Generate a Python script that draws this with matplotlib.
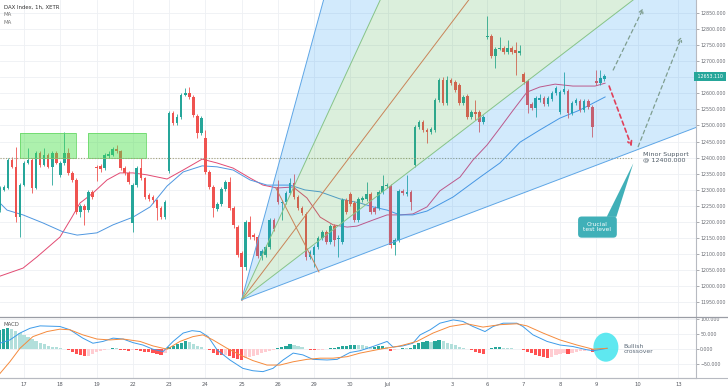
import matplotlib
matplotlib.use("Agg")
import matplotlib.pyplot as plt
import matplotlib.transforms as mtransforms
from matplotlib.patches import Rectangle, Ellipse, Polygon
from matplotlib.lines import Line2D
import numpy as np

plt.rcParams['font.family'] = ['DejaVu Sans']

# ---------------- data ----------------
opens = [12236, 12299, 12305, 12392, 12371, 12215, 12315, 12383, 12392, 12305,
         12414, 12377, 12408, 12371, 12414, 12346, 12383, 12414, 12352, 12330,
         12230, 12249, 12236, 12293, 12371, 12374, 12367, 12405, 12408, 12427,
         12420, 12367, 12352, 12196, 12315, 12367, 12336, 12283, 12277, 12268,
         12243, 12215, 12358, 12539, 12508, 12526, 12595, 12601, 12589, 12530,
         12477, 12461, 12355, 12308, 12240, 12255, 12302, 12324, 12243, 12183,
         12102, 12059, 12199, 12158, 12152, 12093, 12096, 12121, 12205, 12308,
         12258, 12261, 12289, 12321, 12277, 12243, 12224, 12090, 12096, 12121,
         12149, 12168, 12136, 12186, 12146, 12136, 12268, 12286, 12258, 12205,
         12268, 12271, 12286, 12243, 12243, 12293, 12311, 12311, 12127, 12143,
         12296, 12286, 12293, 12377, 12495, 12511, 12486, 12480, 12486, 12580,
         12642, 12570, 12642, 12636, 12626, 12570, 12592, 12526, 12542, 12542,
         12511, 12776, 12779, 12717, 12739, 12742, 12729, 12742, 12735, 12726,
         12661, 12639, 12567, 12555, 12580, 12586, 12567, 12583, 12601, 12542,
         12604, 12608, 12539, 12570, 12577, 12548, 12577, 12558, 12639, 12633,
         12645]
highs = [12311, 12315, 12399, 12402, 12433, 12321, 12389, 12430, 12399, 12420,
         12420, 12430, 12414, 12420, 12420, 12389, 12480, 12430, 12358, 12336,
         12255, 12255, 12299, 12299, 12377, 12380, 12414, 12420, 12433, 12440,
         12424, 12374, 12358, 12321, 12374, 12399, 12340, 12289, 12283, 12271,
         12249, 12268, 12545, 12545, 12536, 12601, 12617, 12620, 12595, 12536,
         12530, 12486, 12361, 12315, 12261, 12308, 12330, 12340, 12249, 12190,
         12109, 12205, 12218, 12165, 12158, 12115, 12127, 12211, 12211, 12330,
         12268, 12296, 12336, 12349, 12283, 12249, 12230, 12112, 12127, 12155,
         12174, 12174, 12193, 12193, 12158, 12274, 12274, 12293, 12264, 12277,
         12280, 12324, 12293, 12249, 12299, 12346, 12320, 12318, 12149, 12302,
         12302, 12346, 12299, 12502, 12517, 12517, 12492, 12495, 12586, 12648,
         12651, 12654, 12648, 12642, 12633, 12595, 12598, 12548, 12580, 12548,
         12533, 12842, 12785, 12745, 12776, 12748, 12767, 12748, 12760, 12751,
         12667, 12645, 12573, 12592, 12598, 12592, 12592, 12608, 12623, 12611,
         12667, 12614, 12577, 12586, 12583, 12583, 12583, 12564, 12673, 12673,
         12661]
lows = [12230, 12296, 12302, 12367, 12199, 12152, 12311, 12380, 12289, 12302,
        12371, 12374, 12367, 12315, 12380, 12340, 12377, 12346, 12324, 12224,
        12215, 12190, 12230, 12271, 12327, 12355, 12361, 12399, 12405, 12414,
        12361, 12346, 12318, 12168, 12308, 12330, 12271, 12265, 12258, 12205,
        12208, 12208, 12352, 12502, 12502, 12520, 12592, 12583, 12526, 12461,
        12470, 12349, 12302, 12215, 12233, 12249, 12296, 12236, 12180, 12090,
        11956, 12050, 12146, 12143, 12087, 12080, 12090, 12115, 12170, 12255,
        12205, 12255, 12286, 12271, 12236, 12221, 12080, 12084, 12059, 12115,
        12143, 12130, 12130, 12124, 12090, 12130, 12224, 12249, 12199, 12199,
        12261, 12265, 12224, 12224, 12236, 12286, 12305, 12118, 12096, 12136,
        12283, 12280, 12236, 12370, 12489, 12480, 12445, 12474, 12480, 12573,
        12564, 12564, 12626, 12605, 12564, 12564, 12520, 12520, 12517, 12480,
        12505, 12770, 12711, 12679, 12735, 12723, 12723, 12723, 12658, 12720,
        12630, 12540, 12548, 12526, 12573, 12561, 12561, 12577, 12595, 12536,
        12598, 12523, 12533, 12564, 12542, 12542, 12552, 12464, 12627, 12627,
        12640]
closes = [12305, 12308, 12392, 12371, 12215, 12315, 12383, 12392, 12305, 12414,
          12377, 12408, 12371, 12414, 12383, 12383, 12414, 12352, 12330, 12230,
          12249, 12236, 12293, 12277, 12368, 12364, 12408, 12411, 12427, 12420,
          12367, 12352, 12324, 12315, 12367, 12336, 12277, 12271, 12268, 12243,
          12215, 12261, 12539, 12508, 12526, 12595, 12601, 12589, 12533, 12477,
          12523, 12355, 12308, 12243, 12255, 12302, 12324, 12243, 12190, 12096,
          12059, 12199, 12152, 12152, 12093, 12109, 12121, 12205, 12177, 12261,
          12262, 12289, 12321, 12277, 12243, 12227, 12090, 12105, 12121, 12149,
          12168, 12136, 12186, 12143, 12150, 12268, 12230, 12255, 12205, 12271,
          12274, 12286, 12230, 12230, 12293, 12311, 12314, 12127, 12143, 12296,
          12289, 12293, 12261, 12495, 12511, 12486, 12480, 12489, 12580, 12642,
          12570, 12642, 12633, 12611, 12570, 12589, 12526, 12542, 12536, 12511,
          12526, 12779, 12717, 12739, 12742, 12729, 12742, 12729, 12726, 12732,
          12636, 12564, 12555, 12586, 12586, 12567, 12586, 12601, 12617, 12604,
          12614, 12539, 12570, 12580, 12548, 12577, 12558, 12495, 12633, 12648,
          12653.11]

day_tick_bars = [6, 15, 24, 33, 42, 51, 60, 69, 78, 87, 96.3, 112.3, 121, 130, 139, 148, 158.3, 168.4]
day_tick_labels = ['17', '18', '19', '22', '23', '24', '25', '26', '29', '30',
                   'Jul', '3', '6', '7', '8', '9', '10', '13']

ma_fast_bars = [0.05, 5.76, 9.23, 14.94, 17.9, 19.9, 23.1, 26.6, 29.8, 33.05, 36.5, 41.5,
                45.5, 50.2, 53.9, 57.9, 62.1, 65.3, 68.8, 72.8, 76.2, 79.5, 82.7, 86.2,
                88.6, 92.6, 96.1, 99.3, 102.5, 106.0, 109.2, 114.2, 117.4, 120.9, 124.1,
                127.4, 130.8, 134.0, 137.8, 142.2, 147.7, 150.2]
ma_fast_vals = [12030, 12055, 12090, 12152, 12214, 12258, 12289, 12330, 12352, 12352, 12346,
                12333, 12361, 12395, 12383, 12367, 12336, 12314, 12305, 12308, 12274, 12214,
                12190, 12183, 12186, 12205, 12221, 12221, 12224, 12246, 12296, 12339, 12392,
                12439, 12492, 12548, 12604, 12620, 12629, 12623, 12623, 12632]
ma_slow_bars = [0.05, 1.79, 5.76, 10.7, 15.7, 19.2, 24.1, 28.1, 33.05, 37.3, 41.5, 45.5,
                50.2, 53.9, 57.9, 62.1, 66.3, 72.0, 75.7, 79.5, 84.4, 89.4, 92.6, 96.1,
                99.3, 102.5, 106.0, 112.5, 119.2, 124.1, 129.1, 134.0, 139.0, 143.9, 150.2]
ma_slow_vals = [12258, 12236, 12221, 12196, 12168, 12158, 12165, 12190, 12214, 12246, 12311,
                12355, 12374, 12371, 12361, 12330, 12314, 12314, 12299, 12293, 12271, 12258,
                12246, 12236, 12221, 12221, 12233, 12277, 12339, 12383, 12448, 12486, 12523,
                12548, 12589]

macd_hist = [64, 68, 72, 66, 60, 54, 47, 40, 34, 27, 21, 16, 12, 9, 6, 3, 1,
             -3, -8, -15, -20, -24, -22, -16, -10, -6, -3, 2, 4, 3, -2, -4, -5, -3, -4,
             -6, -9, -11, -13, -17, -21, -14, 6, 12, 17, 22, 26, 24, 18, 12, 7, 2, -4,
             -12, -19, -21, -18, -22, -28, -33, -36, -31, -27, -24, -20, -14, -9, -5, -2,
             3, 8, 12, 16, 14, 10, 6, 2, -3, -4, -4, -3, 2, 3, 5, 6, 10, 12, 13, 14, 14,
             13, 12, 6, 8, 10, 11, 9, -6, -3, 2, 3, 3, 4, 14, 20, 24, 26, 25, 28, 32, 27,
             22, 18, 14, 8, 4, 1, -4, -8, -12, -15, 2, 5, 6, 7, 5, 4, 3, 2, 1, -4, -9,
             -14, -19, -24, -27, -28, -25, -21, -17, -13, -15, -12, -9, -7, -5, -4, -8,
             -3, 1, 2]
macd_line_bars = [0.05, 2.5, 5.0, 7.5, 10.0, 14.9, 17.4, 20.6, 23.1, 25.6, 28.1, 30.6, 33.05,
                  35.5, 38.0, 40.5, 43.0, 45.5, 47.7, 49.7, 51.7, 53.9, 57.1, 60.3, 62.8,
                  65.3, 67.8, 70.3, 72.8, 75.2, 77.7, 81.2, 83.7, 86.9, 89.4, 92.6, 96.1,
                  97.6, 100.0, 102.5, 104.3, 106.8, 109.2, 112.5, 114.9, 117.4, 120.4,
                  122.4, 124.9, 128.3, 129.8, 132.3, 135.8, 139.0, 142.2, 145.7, 147.2, 150.7]
macd_line_vals = [20, 31, 54, 70, 78, 76, 65, 37, 20, 26, 37, 34, 22, 14, 0, -8, 26, 54, 62,
                  59, 42, -2, -36, -64, -72, -75, -64, -36, -13, -19, -34, -36, -34, -11, -5,
                  9, 26, 7, 11, 20, 48, 65, 87, 98, 93, 76, 59, 76, 87, 87, 76, 48, 26, 14,
                  9, -2, -5, 3]
signal_bars = [0.05, 2.5, 5.0, 8.2, 11.7, 14.9, 17.4, 20.6, 24.1, 27.3, 30.6, 34.8, 38.0,
               41.5, 44.7, 47.9, 50.4, 52.9, 56.4, 59.6, 62.8, 66.3, 69.5, 72.8, 76.2, 79.5,
               82.7, 86.2, 89.4, 94.3, 99.3, 103.5, 107.5, 111.7, 115.9, 119.9, 124.1,
               128.3, 130.8, 134.8, 139.0, 143.2, 147.2, 150.7]
signal_vals = [-81, -42, 3, 42, 59, 67, 65, 48, 34, 31, 34, 26, 11, 0, 26, 42, 48, 31, 3,
               -19, -38, -53, -53, -42, -34, -30, -30, -25, -13, 0, 11, 26, 54, 76, 85, 74,
               82, 85, 78, 54, 31, 14, 0, 3]

price_ticks = list(range(11950, 12851, 50))
hidden_price_labels = [12650]
macd_ticks = [100, 50, 0, -50]
macd_tick_labels = ['100.000', '50.000', '0.000', '\u221250.000']
last_price = 12653.11
support_level = 12400
zone_low, zone_high = 12400, 12477
zone_bars = [(5.0, 19.0), (22.0, 36.2)]
fan_origin_bar = 60
fan_slopes = [46.0, 27.2, 16.6, 9.63, 4.77]
trend_bars = [68.5, 79.2]
trend_prices = [12305, 12043]
path_down_bars = [151.2, 156.8]
path_down_prices = [12623, 12434]
path_up1_bars = [152.2, 159.7]
path_up1_prices = [12673, 12866]
path_up2_bars = [158.4, 169.2]
path_up2_prices = [12434, 12777]
callout_bar, callout_price = 148.3, 12183
callout_tip = (157.2, 12382)
crossover_bar, crossover_val = 150.4, 6.7

# ---------------- figure ----------------
W, H = 728, 391
fig = plt.figure(figsize=(W / 100, H / 100), dpi=100)
fig.patch.set_facecolor('white')

px_per_bar = 4.03
xlim = ((0 + 0.2) / px_per_bar, (696 + 0.2) / px_per_bar)
ax = fig.add_axes([0, (H - 316.7) / H, 696 / W, 316.7 / H])
axm = fig.add_axes([0, (H - 378.3) / H, 696 / W, (378.3 - 316.7) / H])

grid_c = '#eef0f4'

# ----- main panel -----
ax.set_xlim(*xlim)
ax.set_ylim(11903.4, 12891.5)
for t in price_ticks:
    ax.axhline(t, color=grid_c, lw=0.6, zorder=0)
for b in day_tick_bars:
    ax.axvline(b, color=grid_c, lw=0.6, zorder=0)

# moving averages
ax.plot(ma_fast_bars, ma_fast_vals, color='#e24a72', lw=0.7, zorder=2)
ax.plot(ma_slow_bars, ma_slow_vals, color='#4f97e0', lw=0.7, zorder=2)

# candles
n = len(closes)
xb = np.arange(n)
o = np.array(opens, float)
c = np.array(closes, float)
hi = np.array(highs, float)
lo = np.array(lows, float)
cols = np.where(c >= o, '#26a69a', '#ef5350')
ax.vlines(xb, lo, hi, colors=cols, lw=0.6, zorder=3)
ax.bar(xb, np.maximum(np.abs(c - o), 2.5), width=0.66, bottom=np.minimum(o, c),
       color=cols, linewidth=0, zorder=3.1)

# green zones
for x0, x1 in zone_bars:
    ax.add_patch(Rectangle((x0, zone_low), x1 - x0, zone_high - zone_low,
                           facecolor='#4be04b', alpha=0.45, edgecolor='none', zorder=4))
    ax.add_patch(Rectangle((x0, zone_low), x1 - x0, zone_high - zone_low,
                           facecolor='none', edgecolor='#6ad86a', lw=0.6, zorder=4.1))

# support dotted line
ax.hlines(support_level, xlim[0], 157.0, colors='#a3a07c', lw=0.8,
          linestyles=(0, (1, 1.5)), zorder=4.5)

# fan
ox, oy = fan_origin_bar, lows[fan_origin_bar]
far = 400.0
fy = [oy + s * (far - ox) for s in fan_slopes]
fills = [(0, 1, '#2196f3'), (1, 3, '#4caf50'), (3, 4, '#2196f3')]
for a, b, colr in fills:
    ax.add_patch(Polygon([(ox, oy), (far, fy[a]), (far, fy[b])], closed=True,
                         facecolor=colr, alpha=0.2, edgecolor='none', zorder=5))
line_cols = ['#5ea6e6', '#86c488', '#c98458', '#86c488', '#5ea6e6']
for s, lc in zip(fan_slopes, line_cols):
    ax.plot([ox, far], [oy, oy + s * (far - ox)], color=lc, lw=0.7, zorder=5.1)
ax.plot(trend_bars, trend_prices, color='#c98458', lw=0.7, zorder=5.1)

# projected paths
ax.annotate('', xy=(path_down_bars[1], path_down_prices[1]),
            xytext=(path_down_bars[0], path_down_prices[0]),
            arrowprops=dict(arrowstyle='->', color='#e0405a', lw=1.2,
                            linestyle=(0, (2.5, 2)), mutation_scale=7,
                            shrinkA=0, shrinkB=0), zorder=6)
for bx, pv in [(path_up1_bars, path_up1_prices), (path_up2_bars, path_up2_prices)]:
    ax.annotate('', xy=(bx[1], pv[1]), xytext=(bx[0], pv[0]),
                arrowprops=dict(arrowstyle='->', color='#7f9e90', lw=0.9,
                                linestyle=(0, (3, 2.5)), mutation_scale=7,
                                shrinkA=0, shrinkB=0), zorder=6)

# annotations
ax.text(159.6, support_level, 'Minor Support\n@ 12400.000', fontsize=4.6, color='#4f5b66',
        ha='left', va='center', linespacing=1.05, zorder=7)
ax.add_patch(Polygon([(150.6, 12215), (153.0, 12215), callout_tip], closed=True,
                     facecolor='#40b0b8', edgecolor='none', zorder=7))
ax.text(callout_bar, callout_price, 'Crucial\ntest level', fontsize=4.3, color='white',
        ha='center', va='center', linespacing=1.1, zorder=7.5,
        bbox=dict(boxstyle='round,pad=0.9,rounding_size=0.6', facecolor='#40b0b8',
                  edgecolor='none'))

# axes styling
ax.yaxis.tick_right()
ax.set_yticks(price_ticks)
ax.set_yticklabels(['' if t in hidden_price_labels else f'{t:.3f}' for t in price_ticks])
ax.tick_params(axis='y', labelsize=3.4, colors='#6a6d74', length=1.8, width=0.4, pad=1.2)
ax.tick_params(axis='x', bottom=False, labelbottom=False)
for sp in ['top', 'left', 'bottom']:
    ax.spines[sp].set_visible(False)
ax.spines['right'].set_color('#b7bac1')
ax.spines['right'].set_linewidth(0.8)

trans = mtransforms.blended_transform_factory(ax.transAxes, ax.transData)
ax.text(1.0, last_price, ' 12653.110 ', transform=trans, fontsize=3.4, color='white',
        ha='left', va='center', clip_on=False, zorder=10,
        bbox=dict(boxstyle='square,pad=0.35', facecolor='#26a69a', edgecolor='none'))

# ----- MACD panel -----
axm.set_xlim(*xlim)
axm.set_ylim(-97.3, 108.7)
for t in macd_ticks:
    axm.axhline(t, color=grid_c, lw=0.6, zorder=0)
for b in day_tick_bars:
    axm.axvline(b, color=grid_c, lw=0.6, zorder=0)
hist = np.array(macd_hist, float)
hcols = []
for i, v in enumerate(hist):
    prev = hist[i - 1] if i > 0 else v - 1
    if v >= 0:
        hcols.append('#26a69a' if v > prev else '#b2dfdb')
    else:
        hcols.append('#ff5252' if v < prev else '#ffcdd2')
axm.bar(np.arange(len(hist)), hist, width=0.78, color=hcols, linewidth=0, zorder=2)
axm.add_patch(Ellipse((crossover_bar, crossover_val), 6.2, 97, facecolor='#4de6ef',
                      alpha=0.9, edgecolor='none', zorder=3))
axm.plot(macd_line_bars, macd_line_vals, color='#3d9be9', lw=0.7, zorder=4)
axm.plot(signal_bars, signal_vals, color='#f58a3c', lw=0.7, zorder=4)
axm.text(154.8, 0, 'Bullish\ncrossover', fontsize=4.4, color='#5d6b7a', ha='left',
         va='center', linespacing=1.1, zorder=5)

axm.yaxis.tick_right()
axm.set_yticks(macd_ticks)
axm.set_yticklabels(macd_tick_labels)
axm.tick_params(axis='y', labelsize=3.4, colors='#6a6d74', length=1.8, width=0.4, pad=1.2)
axm.set_xticks(day_tick_bars)
axm.set_xticklabels(day_tick_labels)
axm.tick_params(axis='x', labelsize=3.8, colors='#5a5d64', length=0, pad=2.8)
for sp in ['top', 'left']:
    axm.spines[sp].set_visible(False)
axm.spines['right'].set_color('#b7bac1')
axm.spines['right'].set_linewidth(0.8)
axm.spines['bottom'].set_color('#b7bac1')
axm.spines['bottom'].set_linewidth(0.8)

fig.add_artist(Line2D([0, 1], [(H - 316.7) / H] * 2, color='#9a9da5', lw=0.9))
fig.add_artist(Line2D([0, 1], [(H - 378.3) / H] * 2, color='#b7bac1', lw=0.8))

fig.text(4 / W, 1 - 7 / H, 'DAX Index, 1h, XETR', fontsize=3.9, color='#333333', va='center')
fig.text(4 / W, 1 - 15 / H, 'MA', fontsize=3.9, color='#777777', va='center')
fig.text(4 / W, 1 - 23 / H, 'MA', fontsize=3.9, color='#777777', va='center')
fig.text(4 / W, 1 - 325 / H, 'MACD', fontsize=3.9, color='#555555', va='center')

fig.savefig('out.png', dpi=100)
